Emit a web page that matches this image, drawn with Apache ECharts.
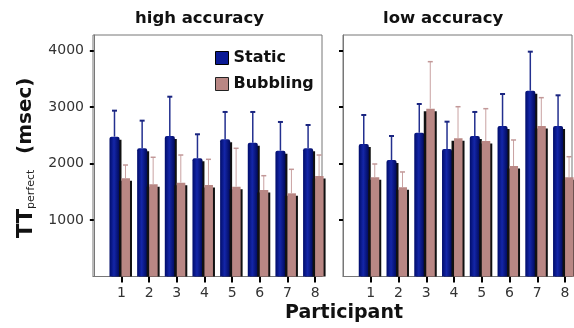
<!DOCTYPE html>
<html>
<head>
<meta charset="utf-8">
<script src="https://cdn.jsdelivr.net/npm/echarts@6/dist/echarts.min.js"></script>
<style>
html,body{margin:0;padding:0;background:#fff;}
#chart{width:574px;height:328px;}
</style>
</head>
<body>
<div id="chart"></div>
<script>
// ---- data ----
var participants = [1, 2, 3, 4, 5, 6, 7, 8];
var yTicks = [1000, 2000, 3000, 4000];
var highStatic      = [2475, 2269, 2487, 2092, 2428, 2368, 2227, 2269];
var highStaticErr   = [460, 489, 695, 425, 484, 544, 508, 412];
var highBubbling    = [1738, 1632, 1661, 1619, 1590, 1531, 1472, 1779];
var highBubblingErr = [235, 478, 489, 455, 679, 253, 425, 371];
var lowStatic       = [2345, 2062, 2545, 2257, 2487, 2664, 3289, 2664];
var lowStaticErr    = [513, 425, 508, 483, 425, 566, 690, 543];
var lowBubbling     = [1756, 1579, 2970, 2446, 2398, 1956, 2664, 1756];
var lowBubblingErr  = [235, 271, 832, 559, 572, 460, 501, 364];

var FONT = '"DejaVu Sans", Verdana, sans-serif';
var BLUE = '#0b1a95';
var PINK = '#b98784';

function rows(vals, errs) {
  return participants.map(function (p, i) { return [p, vals[i], errs[i]]; });
}

function staticRender(params, api) {
  var x = api.value(0), v = api.value(1), e = api.value(2);
  var base = api.coord([x, 0]), top = api.coord([x, v]), et = api.coord([x, v + e]);
  var c = base[0];
  var h = base[1] - top[1];
  var ex = c - 7;
  return {
    type: 'group',
    children: [
      { type: 'rect', shape: { x: c - 10, y: top[1] + 3, width: 10, height: h - 3 }, style: { fill: '#111' } },
      { type: 'rect', shape: { x: c - 12, y: top[1], width: 10, height: h, r: [2, 2, 0, 0] },
        style: { fill: new echarts.graphic.LinearGradient(0, 0, 1, 0, [
          { offset: 0, color: '#000c6a' }, { offset: 0.45, color: '#1426a8' }, { offset: 1, color: '#000a5c' }]) } },
      { type: 'line', shape: { x1: ex, y1: top[1], x2: ex, y2: et[1] }, style: { stroke: '#23308f', lineWidth: 1.5 } },
      { type: 'line', shape: { x1: ex - 2.5, y1: et[1], x2: ex + 2.5, y2: et[1] }, style: { stroke: '#1a2580', lineWidth: 2 } }
    ]
  };
}

function bubbleRender(params, api) {
  var x = api.value(0), v = api.value(1), e = api.value(2);
  var base = api.coord([x, 0]), top = api.coord([x, v]), et = api.coord([x, v + e]);
  var c = base[0];
  var h = base[1] - top[1];
  var ex = c + 4;
  return {
    type: 'group',
    children: [
      { type: 'rect', shape: { x: c - 2.5, y: top[1] + 2.5, width: 13, height: h - 2.5 }, style: { fill: '#111' } },
      { type: 'rect', shape: { x: c, y: top[1], width: 8.5, height: h }, style: { fill: PINK } },
      { type: 'line', shape: { x1: ex, y1: top[1], x2: ex, y2: et[1] }, style: { stroke: '#c9a2a2', lineWidth: 1 } },
      { type: 'line', shape: { x1: ex - 2.5, y1: et[1], x2: ex + 2.5, y2: et[1] }, style: { stroke: '#c29898', lineWidth: 1.5 } }
    ]
  };
}

function xAxisCfg(idx, min) {
  return {
    type: 'value', gridIndex: idx, min: min, max: 8.25,
    axisLine: { show: true, lineStyle: { color: '#777', width: 1 } },
    axisTick: { show: true, customValues: participants, length: 6, lineStyle: { color: '#000', width: 2 } },
    axisLabel: { show: true, customValues: participants, fontSize: 14, color: '#333', fontFamily: FONT, margin: 10,
      formatter: function (v) { return String(v); } },
    splitLine: { show: false }
  };
}
function yAxisCfg(idx, labels) {
  return {
    type: 'value', gridIndex: idx, min: 0, max: 4274,
    axisLine: { show: true, lineStyle: { color: '#777', width: 1 } },
    axisTick: { show: true, customValues: yTicks, length: 4, lineStyle: { color: '#000', width: 2 } },
    axisLabel: { show: labels, customValues: yTicks, fontSize: 14, color: '#333', fontFamily: FONT, margin: 9,
      formatter: function (v) { return String(v); } },
    splitLine: { show: false }
  };
}

var chart = echarts.init(document.getElementById('chart'), null, { renderer: 'canvas' });
chart.setOption({
  animation: false,
  backgroundColor: '#fff',
  grid: [
    { left: 93, top: 35, width: 229, height: 241.5, show: true, borderColor: '#777', borderWidth: 1 },
    { left: 343, top: 35, width: 229, height: 241.5, show: true, borderColor: '#777', borderWidth: 1 }
  ],
  xAxis: [xAxisCfg(0, -0.03), xAxisCfg(1, 0)],
  yAxis: [yAxisCfg(0, true), yAxisCfg(1, false)],
  legend: {
    orient: 'vertical', left: 210, top: 45, icon: 'rect', itemWidth: 13, itemHeight: 13, itemGap: 10,
    textStyle: { fontSize: 16, fontWeight: 'bold', color: '#111', fontFamily: FONT, lineHeight: 14 },
    data: [
      { name: 'Static', itemStyle: { color: BLUE, borderColor: '#000', borderWidth: 1 } },
      { name: 'Bubbling', itemStyle: { color: PINK, borderColor: '#222', borderWidth: 1 } }
    ]
  },
  series: [
    { type: 'custom', name: 'Static', xAxisIndex: 0, yAxisIndex: 0, itemStyle: { color: BLUE }, renderItem: staticRender, data: rows(highStatic, highStaticErr) },
    { type: 'custom', name: 'Static', xAxisIndex: 1, yAxisIndex: 1, itemStyle: { color: BLUE }, renderItem: staticRender, data: rows(lowStatic, lowStaticErr) },
    { type: 'custom', name: 'Bubbling', xAxisIndex: 0, yAxisIndex: 0, itemStyle: { color: PINK }, renderItem: bubbleRender, data: rows(highBubbling, highBubblingErr) },
    { type: 'custom', name: 'Bubbling', xAxisIndex: 1, yAxisIndex: 1, itemStyle: { color: PINK }, renderItem: bubbleRender, data: rows(lowBubbling, lowBubblingErr) }
  ],
  graphic: [
    { type: 'text', left: 135, top: 10, style: { text: 'high accuracy', font: 'bold 16.5px ' + FONT, fill: '#111' } },
    { type: 'text', left: 383, top: 10, style: { text: 'low accuracy', font: 'bold 16.5px ' + FONT, fill: '#111' } },
    { type: 'text', left: 285, top: 304, style: { text: 'Participant', font: 'bold 19px ' + FONT, fill: '#111' } },
    {
      type: 'group', x: 35, y: 238, rotation: Math.PI / 2,
      children: [
        { type: 'text', x: 0, y: -8, style: { text: 'TT', font: 'bold 21px ' + FONT, fill: '#111', verticalAlign: 'middle', align: 'left' } },
        { type: 'text', x: 29, y: -4, style: { text: 'perfect', font: '11px ' + FONT, fill: '#222', verticalAlign: 'middle', align: 'left' } },
        { type: 'text', x: 84, y: -9, style: { text: '(msec)', font: 'bold 20px ' + FONT, fill: '#111', verticalAlign: 'middle', align: 'left' } }
      ]
    }
  ]
});
</script>
</body>
</html>
